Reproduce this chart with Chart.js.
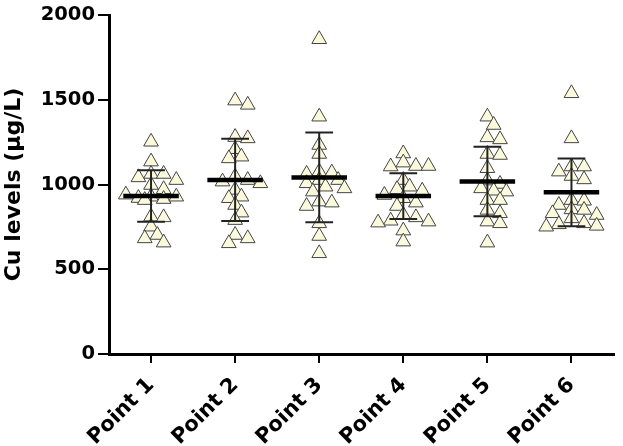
<!DOCTYPE html>
<html>
<head>
<meta charset="utf-8">
<script src="https://cdn.jsdelivr.net/npm/chart.js@4.4.1/dist/chart.umd.min.js"></script>
<style>
  html, body { margin: 0; padding: 0; background: #fff; }
</style>
</head>
<body>
<canvas id="chart" width="623" height="446"></canvas>
<script>
const categories = ['Point 1', 'Point 2', 'Point 3', 'Point 4', 'Point 5', 'Point 6'];
const yTicks = [0, 500, 1000, 1500, 2000];

// Cu levels (µg/L) per sampling point
const point1 = [1252, 1135, 1062, 1062, 1042, 1026, 997, 972, 928, 914, 920, 928, 940, 908, 810, 806, 751, 702, 682, 657];
const point2 = [1495, 1470, 1280, 1272, 1208, 1164, 1154, 1046, 1026, 1017, 1007, 968, 928, 919, 879, 834, 790, 702, 682, 653];
const point3 = [1857, 1400, 1233, 1180, 1076, 1070, 1062, 1026, 1026, 1007, 987, 977, 958, 899, 893, 873, 771, 696, 594];
const point4 = [1183, 1129, 1109, 1106, 1109, 1026, 987, 972, 963, 938, 919, 893, 873, 820, 806, 786, 781, 775, 728, 663];
const point5 = [1400, 1351, 1278, 1266, 1180, 1174, 1096, 1023, 1003, 977, 963, 958, 908, 908, 850, 830, 781, 771, 657];
const point6 = [1538, 1272, 1106, 1106, 1076, 1050, 1030, 908, 904, 879, 853, 850, 830, 820, 800, 771, 765, 756, 751];

// mean and SD bars as drawn in the figure
const means = [932, 1027, 1042, 932, 1017, 954];
const sds = [152, 243, 265, 135, 205, 200];

const groups = [point1, point2, point3, point4, point5, point6];

// spread points sideways inside the column; when the column is full,
// take the slot that overlaps the least
const STEP = 0.075, MAXK = 8, RX = 0.11, RY = 50;
function swarm(values, center) {
  const placed = [];
  return values.map(v => {
    let best = 0, bestScore = -Infinity;
    for (let k = 0; k <= MAXK; k++) {
      const off = (k % 2 ? 1 : -1) * Math.ceil(k / 2) * STEP;
      let d = Infinity;
      placed.forEach(p => {
        d = Math.min(d, ((p.x - off) / RX) ** 2 + ((p.y - v) / RY) ** 2);
      });
      if (d >= 1) { best = off; break; }
      if (d > bestScore) { bestScore = d; best = off; }
    }
    placed.push({ x: best, y: v });
    return { x: center + best, y: v };
  });
}

const meanSdPlugin = {
  id: 'meanSd',
  afterDatasetsDraw(chart) {
    const { ctx, scales: { x, y } } = chart;
    ctx.save();
    ctx.lineCap = 'butt';
    means.forEach((m, i) => {
      const cx = x.getPixelForValue(i + 1);
      const half = x.getPixelForValue(i + 1.33) - cx;
      const cap = x.getPixelForValue(i + 1.165) - cx;
      const yTop = y.getPixelForValue(m + sds[i]);
      const yBot = y.getPixelForValue(m - sds[i]);
      const yMean = y.getPixelForValue(m);

      ctx.strokeStyle = '#222';
      ctx.lineWidth = 2;
      ctx.beginPath();
      ctx.moveTo(cx, yTop); ctx.lineTo(cx, yBot);
      ctx.moveTo(cx - cap, yTop); ctx.lineTo(cx + cap, yTop);
      ctx.moveTo(cx - cap, yBot); ctx.lineTo(cx + cap, yBot);
      ctx.stroke();

      ctx.strokeStyle = '#000';
      ctx.lineWidth = 4.5;
      ctx.beginPath();
      ctx.moveTo(cx - half, yMean); ctx.lineTo(cx + half, yMean);
      ctx.stroke();
    });
    ctx.restore();
  }
};

Chart.defaults.font.family = '"DejaVu Sans", sans-serif';
Chart.defaults.font.weight = 'bold';
Chart.defaults.color = '#000';

new Chart(document.getElementById('chart').getContext('2d'), {
  type: 'scatter',
  data: {
    datasets: groups.map((g, i) => ({
      label: categories[i],
      data: swarm(g, i + 1),
      pointStyle: 'triangle',
      pointRadius: 8.5,
      pointHoverRadius: 8.5,
      backgroundColor: '#fcfadc',
      borderColor: '#444',
      borderWidth: 1
    }))
  },
  options: {
    responsive: false,
    animation: false,
    layout: { padding: { left: 0, right: 4, top: 15, bottom: 0 } },
    plugins: {
      legend: { display: false },
      tooltip: { enabled: false }
    },
    scales: {
      x: {
        type: 'linear',
        min: 0.5,
        max: 6.5,
        afterBuildTicks: scale => { scale.ticks = categories.map((c, i) => ({ value: i + 1 })); },
        afterFit: scale => { scale.height = 92; },
        ticks: {
          autoSkip: false,
          minRotation: 45,
          maxRotation: 45,
          padding: 10,
          font: { size: 21, weight: 'bold' },
          callback: v => categories[v - 1]
        },
        grid: { drawOnChartArea: false, drawTicks: true, tickLength: 9, color: '#000', lineWidth: 2 },
        border: { display: true, color: '#000', width: 3 }
      },
      y: {
        min: 0,
        max: 2000,
        afterBuildTicks: scale => { scale.ticks = yTicks.map(v => ({ value: v })); },
        afterFit: scale => { scale.width = 109; },
        ticks: {
          padding: 3,
          font: { size: 19.5, weight: 'bold' },
          callback: v => String(v)
        },
        grid: { drawOnChartArea: false, drawTicks: true, tickLength: 11, color: '#000', lineWidth: 2 },
        border: { display: true, color: '#000', width: 3 },
        title: {
          display: true,
          text: 'Cu levels (μg/L)',
          font: { size: 22, weight: 'bold' },
          padding: 1
        }
      }
    }
  },
  plugins: [meanSdPlugin]
});
</script>
</body>
</html>
